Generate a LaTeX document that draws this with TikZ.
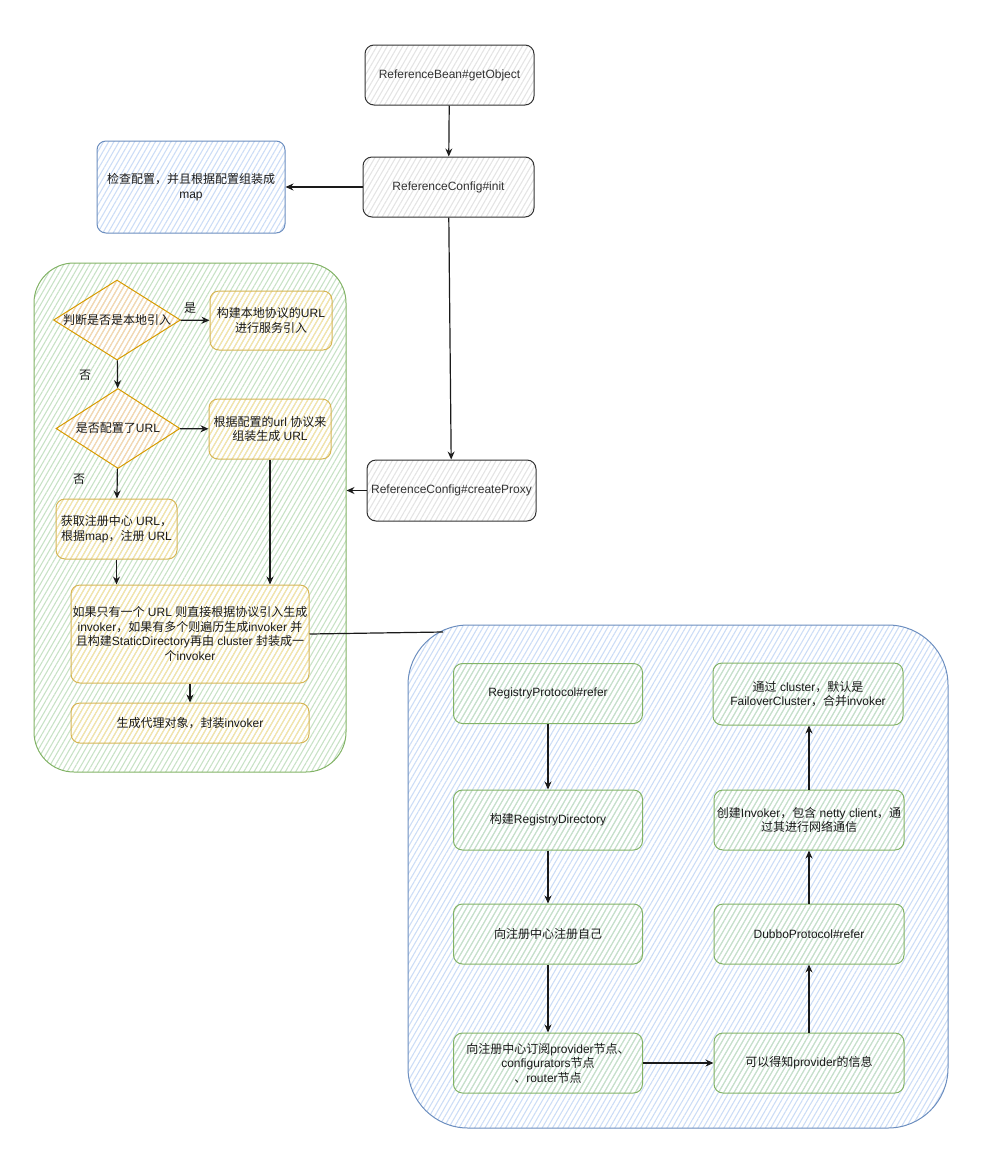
\documentclass[tikz,border=0pt]{standalone}
\usepackage{fontspec}
\setmainfont{Liberation Sans}
\newfontfamily\cjk{Noto Sans CJK SC}
\newcommand\zh[1]{{\cjk #1}}
\usetikzlibrary{arrows.meta,shapes.geometric,patterns.meta}
\definecolor{grayline}{HTML}{333333}
\definecolor{grayhatch}{HTML}{E4E4E4}
\definecolor{blueline}{HTML}{6C8EBF}
\definecolor{bluehatch}{HTML}{CCDDF6}
\definecolor{greenline}{HTML}{82B366}
\definecolor{greenhatch}{HTML}{C8E2C6}
\definecolor{yellowline}{HTML}{D6B656}
\definecolor{yellowhatch}{HTML}{F8E4A8}
\definecolor{orangeline}{HTML}{D79B00}
\definecolor{orangehatch}{HTML}{F9D6B0}
\definecolor{txt}{HTML}{1A1A1A}
\tikzset{
  hatched/.style={pattern={Lines[angle=60,distance=4.5pt,line width=1.1pt]},pattern color=#1},
  box/.style={rounded corners=9pt, line width=1pt, align=center,
    font=\fontsize{12}{14.5}\selectfont, text=txt, inner sep=0pt},
  graybox/.style={box, draw=grayline, hatched=grayhatch, text=grayline},
  bluebox/.style={box, draw=blueline, hatched=bluehatch},
  yellowbox/.style={box, draw=yellowline, hatched=yellowhatch},
  greenbox/.style={box, draw=greenline, hatched=greenhatch,
    minimum width=189pt, minimum height=60pt},
  decision/.style={diamond, draw=orangeline, hatched=orangehatch, line width=1pt,
    inner sep=0pt, aspect=1.55, font=\fontsize{12}{14.5}\selectfont, text=txt},
  lbl/.style={font=\fontsize{12}{14.5}\selectfont, text=txt, inner sep=0pt},
  conn/.style={line width=1.2pt, draw=txt, -{Stealth[length=8pt,width=7pt,open]}},
  plainconn/.style={line width=1.2pt, draw=txt},
}
\begin{document}
\begin{tikzpicture}[x=1pt,y=-1pt]
\useasboundingbox (0,0) rectangle (987,1149);
% containers
\node[draw=greenline, hatched=greenhatch, line width=1pt, rounded corners=40pt,
  minimum width=312pt, minimum height=509pt, inner sep=0pt] (gcont) at (190,517.5) {};
\node[draw=blueline, hatched=bluehatch, line width=1pt, rounded corners=60pt,
  minimum width=540pt, minimum height=503pt, inner sep=0pt] (bcont) at (678,876.5) {};
\coordinate (bjoin) at (443,632);

% top column
\node[graybox, minimum width=169pt, minimum height=60pt] (getobj) at (449.5,75) {ReferenceBean\#getObject};
\node[graybox, minimum width=171pt, minimum height=60pt] (init) at (448.5,187) {ReferenceConfig\#init};
\node[bluebox, minimum width=188pt, minimum height=92pt] (check) at (191,187) {\zh{检查配置，并且根据配置组装成}\\map};
\node[graybox, minimum width=169pt, minimum height=61pt] (proxyc) at (451.5,490.5) {ReferenceConfig\#createProxy};

% green container content
\node[decision, minimum width=127pt, minimum height=80pt] (d1) at (117,320) {\makebox[0pt]{\zh{判断是否是本地引入}}};
\node[decision, minimum width=124pt, minimum height=80pt] (d2) at (118,428.5) {\makebox[0pt]{\zh{是否配置了}URL}};
\node[yellowbox, minimum width=122pt, minimum height=59pt] (local) at (271,320.5) {\zh{构建本地协议的}URL\\\zh{进行服务引入}};
\node[yellowbox, minimum width=122pt, minimum height=60pt] (urlcfg) at (270,429) {\zh{根据配置的}url \zh{协议来}\\\zh{组装生成} URL};
\node[yellowbox, minimum width=121pt, minimum height=60pt] (reg) at (116.5,529) {\zh{获取注册中心} URL\zh{，}\\\zh{根据}map\zh{，注册} URL};
\node[yellowbox, minimum width=238pt, minimum height=98pt] (merge) at (190,634) {\zh{如果只有一个} URL \zh{则直接根据协议引入生成}\\invoker\zh{，如果有多个则遍历生成}invoker \zh{并}\\\zh{且构建}StaticDirectory\zh{再由} cluster \zh{封装成一}\\\zh{个}invoker};
\node[yellowbox, minimum width=238pt, minimum height=40pt] (proxyobj) at (190,723) {\zh{生成代理对象，封装}invoker};
\node[lbl] (yes) at (190,308) {\zh{是}};
\node[lbl] (no1) at (85,375) {\zh{否}};
\node[lbl] (no2) at (79,479) {\zh{否}};

% blue container content
\node[greenbox] (rp) at (548,693.5) {RegistryProtocol\#refer};
\node[greenbox] (rd) at (548,820) {\zh{构建}RegistryDirectory};
\node[greenbox] (self) at (548,934) {\zh{向注册中心注册自己}};
\node[greenbox] (sub) at (548,1063) {\zh{向注册中心订阅}provider\zh{节点、}\\configurators\zh{节点}\\\zh{、}router\zh{节点}};
\node[greenbox, minimum width=190pt] (info) at (809,1063) {\zh{可以得知}provider\zh{的信息}};
\node[greenbox, minimum width=190pt] (dubbo) at (809,934) {DubboProtocol\#refer};
\node[greenbox, minimum width=190pt] (inv) at (809,820) {\zh{创建}Invoker\zh{，包含} netty client\zh{，通}\\\zh{过其进行网络通信}};
\node[greenbox, minimum width=190pt, minimum height=62pt] (cl) at (808,694) {\zh{通过} cluster\zh{，默认是}\\FailoverCluster\zh{，合并}invoker};

% connectors
\draw[conn] (getobj) -- (init);
\draw[conn] (init) -- (check);
\draw[conn] (init) -- (proxyc);
\draw[conn] (proxyc.west) -- (gcont.east |- proxyc.west);
\draw[conn] (d1) -- (local);
\draw[conn] (d1) -- (d2);
\draw[conn] (d2) -- (urlcfg);
\draw[conn] (d2) -- (reg);
\draw[conn] (reg) -- (reg.south |- merge.north);
\draw[conn] (urlcfg) -- (urlcfg.south |- merge.north);
\draw[conn] (merge) -- (proxyobj);
\draw[plainconn] (merge.east) -- (bjoin);
\draw[conn] (rp) -- (rd);
\draw[conn] (rd) -- (self);
\draw[conn] (self) -- (sub);
\draw[conn] (sub) -- (info);
\draw[conn] (info) -- (dubbo);
\draw[conn] (dubbo) -- (inv);
\draw[conn] (inv) -- (inv.north |- cl.south);
\end{tikzpicture}
\end{document}
